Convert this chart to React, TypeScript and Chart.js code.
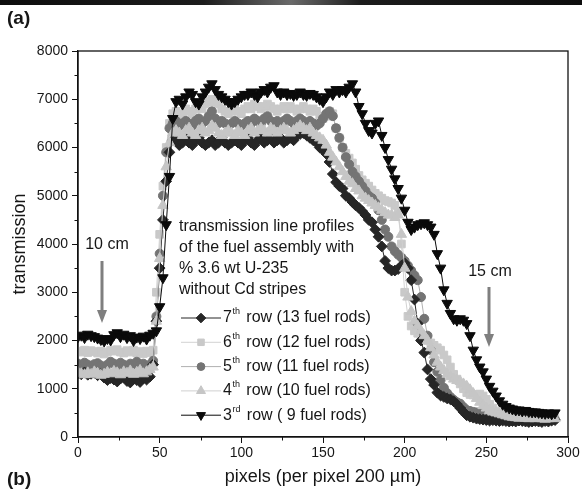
import React, { useEffect, useRef } from 'react';
import { Chart, registerables } from 'chart.js';
import { drawPoint } from 'chart.js/helpers';

Chart.register(...registerables);

// x positions (pixels)
const pixels = [
  0, 2, 4, 6, 8, 10, 12, 14, 16, 18,
  20, 22, 24, 26, 28, 30, 32, 34, 36, 38,
  40, 42, 44, 46, 48, 50, 52, 54, 56, 58,
  60, 62, 64, 66, 68, 70, 72, 74, 76, 78,
  80, 82, 84, 86, 88, 90, 92, 94, 96, 98,
  100, 102, 104, 106, 108, 110, 112, 114, 116, 118,
  120, 122, 124, 126, 128, 130, 132, 134, 136, 138,
  140, 142, 144, 146, 148, 150, 152, 154, 156, 158,
  160, 162, 164, 166, 168, 170, 172, 174, 176, 178,
  180, 182, 184, 186, 188, 190, 192, 194, 196, 198,
  200, 202, 204, 206, 208, 210, 212, 214, 216, 218,
  220, 222, 224, 226, 228, 230, 232, 234, 236, 238,
  240, 242, 244, 246, 248, 250, 252, 254, 256, 258,
  260, 262, 264, 266, 268, 270, 272, 274, 276, 278,
  280, 282, 284, 286, 288, 290, 292,
];

const row7 = [
  1320, 1300, 1340, 1290, 1310, 1330, 1280, 1300, 1230, 1180,
  1220, 1190, 1150, 1210, 1240, 1160, 1130, 1200, 1180, 1140,
  1220, 1190, 1250, 1500, 2400, 3500, 4500, 5300, 5900, 6150,
  6150, 6050, 6100, 6200, 6100, 6050, 6150, 6200, 6100, 6050,
  6100, 6150, 6050, 6100, 6200, 6100, 6050, 6100, 6150, 6100,
  6050, 6150, 6200, 6100, 6050, 6150, 6200, 6100, 6150, 6200,
  6100, 6150, 6200, 6100, 6150, 6200, 6150, 6250, 6280, 6300,
  6250, 6200, 6150, 6100, 6000, 5950, 5870, 5700, 5450, 5280,
  5200, 5150, 5000, 4950, 4870, 4800, 4750, 4680, 4600, 4500,
  4450, 4300, 4150, 3950, 3650, 3500, 3450, 3450, 3480, 3550,
  3600, 3500, 3250, 2850, 2350, 2000, 1750, 1400, 1200, 1080,
  920, 860, 830, 800, 780, 740, 680, 600, 520, 450,
  420, 400, 380, 370, 360, 350, 340, 350, 340, 330,
  340, 330, 320, 330, 320, 340, 330, 320, 310, 320,
  330, 320, 310, 330, 320, 340, 350,
];

const row6 = [
  1780, 1760, 1800, 1750, 1790, 1770, 1740, 1780, 1720, 1760,
  1800, 1780, 1810, 1760, 1740, 1790, 1760, 1800, 1740, 1770,
  1730, 1780, 1750, 1800, 3000, 4200, 5200, 6000, 6500, 6700,
  6750, 6650, 6700, 6800, 6750, 6700, 6800, 6850, 6800, 6900,
  6950, 7000, 6950, 6900, 6800, 6750, 6700, 6750, 6800, 6750,
  6700, 6800, 6850, 6800, 6900, 6850, 6800, 6850, 6900, 6850,
  6800, 6750, 6800, 6850, 6800, 6850, 6800, 6750, 6800, 6850,
  6800, 6750, 6800, 6750, 6650, 6600, 6650, 6750, 6700, 6400,
  6200, 6000, 5880, 5780, 5680, 5550, 5420, 5330, 5260, 5200,
  5120, 5050, 5000, 4950, 4900, 4880, 4850, 4800, 4650, 4000,
  3000, 2500, 2300, 2200, 2150, 2100, 2050, 2000, 1950, 1900,
  1850, 1800, 1700, 1600, 1450, 1300, 1200, 1100, 1000, 920,
  880, 870, 880, 890, 850, 780, 680, 600, 540, 500,
  470, 450, 440, 430, 420, 410, 420, 410, 400, 410,
  400, 410, 400, 390, 400, 410, 400,
];

const row5 = [
  1520, 1480, 1540, 1500, 1460, 1510, 1530, 1480, 1440, 1500,
  1560, 1520, 1480, 1540, 1500, 1470, 1520, 1500, 1560, 1480,
  1520, 1450, 1500, 1580, 2500, 3800, 5000, 5900, 6400, 6500,
  6550, 6450, 6500, 6550, 6500, 6450, 6550, 6600, 6500, 6550,
  6650, 6750, 6600, 6500, 6550, 6500, 6450, 6500, 6550, 6500,
  6450, 6500, 6550, 6500, 6600, 6550, 6500, 6600, 6650, 6550,
  6500, 6550, 6500, 6550, 6600, 6550, 6500, 6550, 6600, 6550,
  6500, 6550, 6500, 6450, 6500, 6600, 6700, 6750, 6650, 6400,
  6200, 6000, 5800, 5650, 5500, 5400, 5300, 5200, 5100, 5000,
  4950, 4850, 4700, 4500, 4300, 4150, 3950, 3850, 3780, 3720,
  3650, 3550, 3450, 3350, 3250, 2900, 2450, 2100, 1800, 1550,
  1350, 1180, 1020, 910, 830, 770, 720, 690, 620, 560,
  540, 520, 510, 500, 500, 490, 480, 470, 460, 450,
  430, 410, 400, 390, 380, 370, 380, 370, 360, 370,
  360, 370, 360, 350, 360, 370, 360,
];

const row4 = [
  1340, 1310, 1290, 1330, 1300, 1350, 1320, 1280, 1300, 1340,
  1310, 1360, 1330, 1290, 1350, 1320, 1370, 1300, 1340, 1380,
  1310, 1350, 1400, 1450, 2400, 3700, 4800, 5600, 6100, 6300,
  6350, 6300, 6250, 6350, 6400, 6300, 6250, 6350, 6400, 6300,
  6350, 6450, 6400, 6300, 6250, 6300, 6350, 6300, 6250, 6350,
  6300, 6250, 6350, 6400, 6300, 6350, 6400, 6350, 6300, 6400,
  6350, 6300, 6350, 6400, 6350, 6300, 6350, 6400, 6450, 6400,
  6350, 6400, 6300, 6250, 6200, 6150, 6050, 5900, 5800, 5700,
  5600, 5500, 5400, 5300, 5250, 5150, 5100, 5000, 4950, 4900,
  4850, 4800, 4750, 4700, 4650, 4600, 4600, 4550, 4600, 4200,
  3500, 2900, 2600, 2400, 2300, 2200, 2100, 2000, 1850, 1700,
  1550, 1450, 1380, 1300, 1250, 1200, 1170, 1150, 1100, 1050,
  980, 900, 800, 720, 650, 600, 550, 520, 500, 480,
  460, 440, 420, 410, 400, 390, 400, 390, 380, 390,
  380, 390, 380, 370, 380, 390, 380,
];

const row3 = [
  2080, 2110, 2060, 2130, 2100, 2080, 2050, 2020, 1990, 2040,
  2010, 2120, 2160, 2080, 2130, 2060, 2100, 2000, 2070, 2040,
  2090, 2030, 2110, 2150, 2200, 2700, 3300, 4400, 5400, 6600,
  6950, 7000, 6900, 7050, 7150, 7100, 6950, 6900, 7050, 7150,
  7250, 7320, 7200, 7100, 7050, 7000, 6950, 6900, 6950, 7000,
  7050, 7100, 7100, 7150, 7100, 7050, 7150, 7200, 7150, 7250,
  7280, 7150, 7100, 7150, 7100, 7120, 7080, 7100, 7150, 7100,
  7080, 7120, 7100, 7050, 7000, 6950, 7050, 7150, 7100, 7200,
  7150, 7200, 7150, 7250, 7320, 7150, 6850, 6700, 6500, 6350,
  6300, 6500, 6550, 6250, 6000, 5750, 5550, 5350, 5150, 4950,
  4700, 4450, 4300, 4350, 4400, 4420, 4440, 4400, 4350, 4200,
  3800, 3500, 3050, 2770, 2560, 2450, 2420, 2450, 2420, 2350,
  2100, 1800, 1600, 1450, 1350, 1200, 1050, 950, 850, 750,
  680, 630, 600, 580, 560, 560, 540, 550, 530, 520,
  520, 510, 500, 490, 500, 480, 500,
];

const xMajorTicks = [0, 50, 100, 150, 200, 250, 300];
const xMinorTicks = [25, 75, 125, 175, 225, 275];
const yMinorTicks = [500, 1500, 2500, 3500, 4500, 5500, 6500, 7500];

const annotationLines = [
  'transmission line profiles',
  'of the fuel assembly with',
  '% 3.6 wt U-235',
  'without Cd stripes',
];

const FONT = '"Liberation Sans", Arial, Helvetica, sans-serif';

const series = [
  { digit: '7', sup: 'th', rest: ' row (13 fuel rods)', data: row7, color: '#262626', line: '#262626', style: 'rectRot', radius: 5.4, legendRadius: 4.8, rotation: 0, order: 2 },
  { digit: '6', sup: 'th', rest: ' row (12 fuel rods)', data: row6, color: '#c9c9c9', line: '#d2d2d2', style: 'rect', radius: 5.4, legendRadius: 4.6, rotation: 0, order: 4 },
  { digit: '5', sup: 'th', rest: ' row (11 fuel rods)', data: row5, color: '#747474', line: '#b0b0b0', style: 'circle', radius: 4.5, legendRadius: 3.9, rotation: 0, order: 3 },
  { digit: '4', sup: 'th', rest: ' row (10 fuel rods)', data: row4, color: '#c6c6c6', line: '#d0d0d0', style: 'triangle', radius: 6, legendRadius: 5.2, rotation: 0, order: 1 },
  { digit: '3', sup: 'rd', rest: ' row ( 9 fuel rods)', data: row3, color: '#0a0a0a', line: '#0a0a0a', style: 'triangle', radius: 6, legendRadius: 5.2, rotation: 180, order: 0 },
];

function drawArrow(ctx: CanvasRenderingContext2D, x: number, y0: number, tip: number) {
  ctx.save();
  ctx.strokeStyle = '#7f7f7f';
  ctx.fillStyle = '#7f7f7f';
  ctx.lineWidth = 3;
  ctx.beginPath();
  ctx.moveTo(x, y0);
  ctx.lineTo(x, tip - 10);
  ctx.stroke();
  ctx.beginPath();
  ctx.moveTo(x - 5, tip - 13);
  ctx.lineTo(x + 5, tip - 13);
  ctx.lineTo(x, tip);
  ctx.closePath();
  ctx.fill();
  ctx.restore();
}

const overlayPlugin = {
  id: 'overlay',
  afterDraw(chart: any) {
    const ctx: CanvasRenderingContext2D = chart.ctx;
    const { left, right, top, bottom } = chart.chartArea;
    const xs = chart.scales.x;
    const ys = chart.scales.y;
    ctx.save();
    // frame
    ctx.strokeStyle = '#111';
    ctx.lineWidth = 1.3;
    ctx.strokeRect(left, top, right - left, bottom - top);
    // minor ticks
    ctx.lineWidth = 1;
    ctx.beginPath();
    xMinorTicks.forEach((v) => {
      const px = Math.round(xs.getPixelForValue(v)) + 0.5;
      ctx.moveTo(px, bottom);
      ctx.lineTo(px, bottom + 3.5);
    });
    yMinorTicks.forEach((v) => {
      const py = Math.round(ys.getPixelForValue(v)) + 0.5;
      ctx.moveTo(left, py);
      ctx.lineTo(left - 3.5, py);
    });
    ctx.stroke();

    ctx.fillStyle = '#161616';
    ctx.textBaseline = 'middle';
    // axis titles
    ctx.font = `18px ${FONT}`;
    ctx.textAlign = 'center';
    ctx.fillText('pixels (per pixel 200 µm)', (left + right) / 2, 477);
    ctx.save();
    ctx.translate(20, (top + bottom) / 2);
    ctx.rotate(-Math.PI / 2);
    ctx.fillText('transmission', 0, 0);
    ctx.restore();

    // panel labels
    ctx.textAlign = 'left';
    ctx.font = `bold 19px ${FONT}`;
    ctx.fillText('(a)', 7, 19);
    ctx.fillText('(b)', 7, 480);

    // annotation
    ctx.font = `16px ${FONT}`;
    annotationLines.forEach((t, i) => {
      ctx.fillText(t, 179, 227 + i * 21);
    });

    // legend
    series.forEach((s, i) => {
      const y = 318 + i * 24.3;
      ctx.strokeStyle = s.line;
      ctx.lineWidth = 1;
      ctx.beginPath();
      ctx.moveTo(181, y);
      ctx.lineTo(221, y);
      ctx.stroke();
      ctx.fillStyle = s.color;
      ctx.strokeStyle = s.color;
      drawPoint(ctx, { pointStyle: s.style, radius: s.legendRadius, rotation: s.rotation, borderWidth: 1 } as any, 201, y);
      ctx.fillStyle = '#161616';
      let x = 223;
      ctx.font = `16px ${FONT}`;
      ctx.fillText(s.digit, x, y);
      x += ctx.measureText(s.digit).width + 0.5;
      ctx.font = `9px ${FONT}`;
      ctx.fillText(s.sup, x, y - 6);
      x += ctx.measureText(s.sup).width + 2;
      ctx.font = `16px ${FONT}`;
      ctx.fillText(s.rest, x, y);
    });

    // cm markers
    ctx.font = `16px ${FONT}`;
    ctx.textAlign = 'center';
    ctx.fillText('10 cm', 107, 245);
    ctx.fillText('15 cm', 490, 272);
    drawArrow(ctx, 102, 261, 323);
    drawArrow(ctx, 489, 287, 347);
    ctx.restore();
  },
};

export default function App() {
  const canvasRef = useRef<HTMLCanvasElement | null>(null);

  useEffect(() => {
    const canvas = canvasRef.current;
    if (!canvas) return;
    const datasets = series.map((s) => ({
      label: s.digit + s.sup + s.rest,
      data: pixels.map((x, i) => ({ x, y: s.data[i] })),
      borderColor: s.line,
      backgroundColor: s.color,
      pointBackgroundColor: s.color,
      pointBorderColor: s.color,
      pointStyle: s.style,
      pointRadius: s.radius,
      pointRotation: s.rotation,
      pointBorderWidth: 1,
      borderWidth: 1,
      order: s.order,
      showLine: true,
      tension: 0,
    }));
    const chart = new Chart(canvas, {
      type: 'line',
      data: { datasets } as any,
      options: {
        responsive: false,
        animation: false,
        devicePixelRatio: 1,
        layout: { padding: { left: 0, top: 51, right: 14, bottom: 0 } },
        plugins: { legend: { display: false }, tooltip: { enabled: false }, title: { display: false } },
        scales: {
          x: {
            type: 'linear',
            min: 0,
            max: 300,
            afterFit: (s: any) => { s.height = 56; },
            afterBuildTicks: (s: any) => { s.ticks = xMajorTicks.map((v) => ({ value: v })); },
            ticks: { color: '#161616', font: { family: FONT, size: 14 }, padding: 2, maxRotation: 0, callback: (v: any) => String(v) },
            grid: { drawOnChartArea: false, drawTicks: true, tickLength: 6, color: '#111', lineWidth: 1 },
            border: { display: true, color: '#111', width: 1.3 },
          },
          y: {
            type: 'linear',
            min: 0,
            max: 8000,
            afterFit: (s: any) => { s.width = 78; },
            ticks: { stepSize: 1000, color: '#161616', font: { family: FONT, size: 14 }, padding: 4, callback: (v: any) => String(v) },
            grid: { drawOnChartArea: false, drawTicks: true, tickLength: 6, color: '#111', lineWidth: 1 },
            border: { display: true, color: '#111', width: 1.3 },
          },
        },
      },
      plugins: [overlayPlugin],
    } as any);
    return () => chart.destroy();
  }, []);

  return (
    <div style={{ position: 'absolute', left: 0, top: 0, width: 582, height: 493, background: '#fff' }}>
      <div
        style={{
          position: 'absolute', left: 0, top: 0, width: 582, height: 5,
          background: 'linear-gradient(to right, #0d0d0d 0%, #1c1c1c 35%, #6a6a6a 50%, #1c1c1c 62%, #0d0d0d 100%)',
        }}
      />
      <canvas ref={canvasRef} width={582} height={493} style={{ display: 'block', width: 582, height: 493 }} />
    </div>
  );
}
